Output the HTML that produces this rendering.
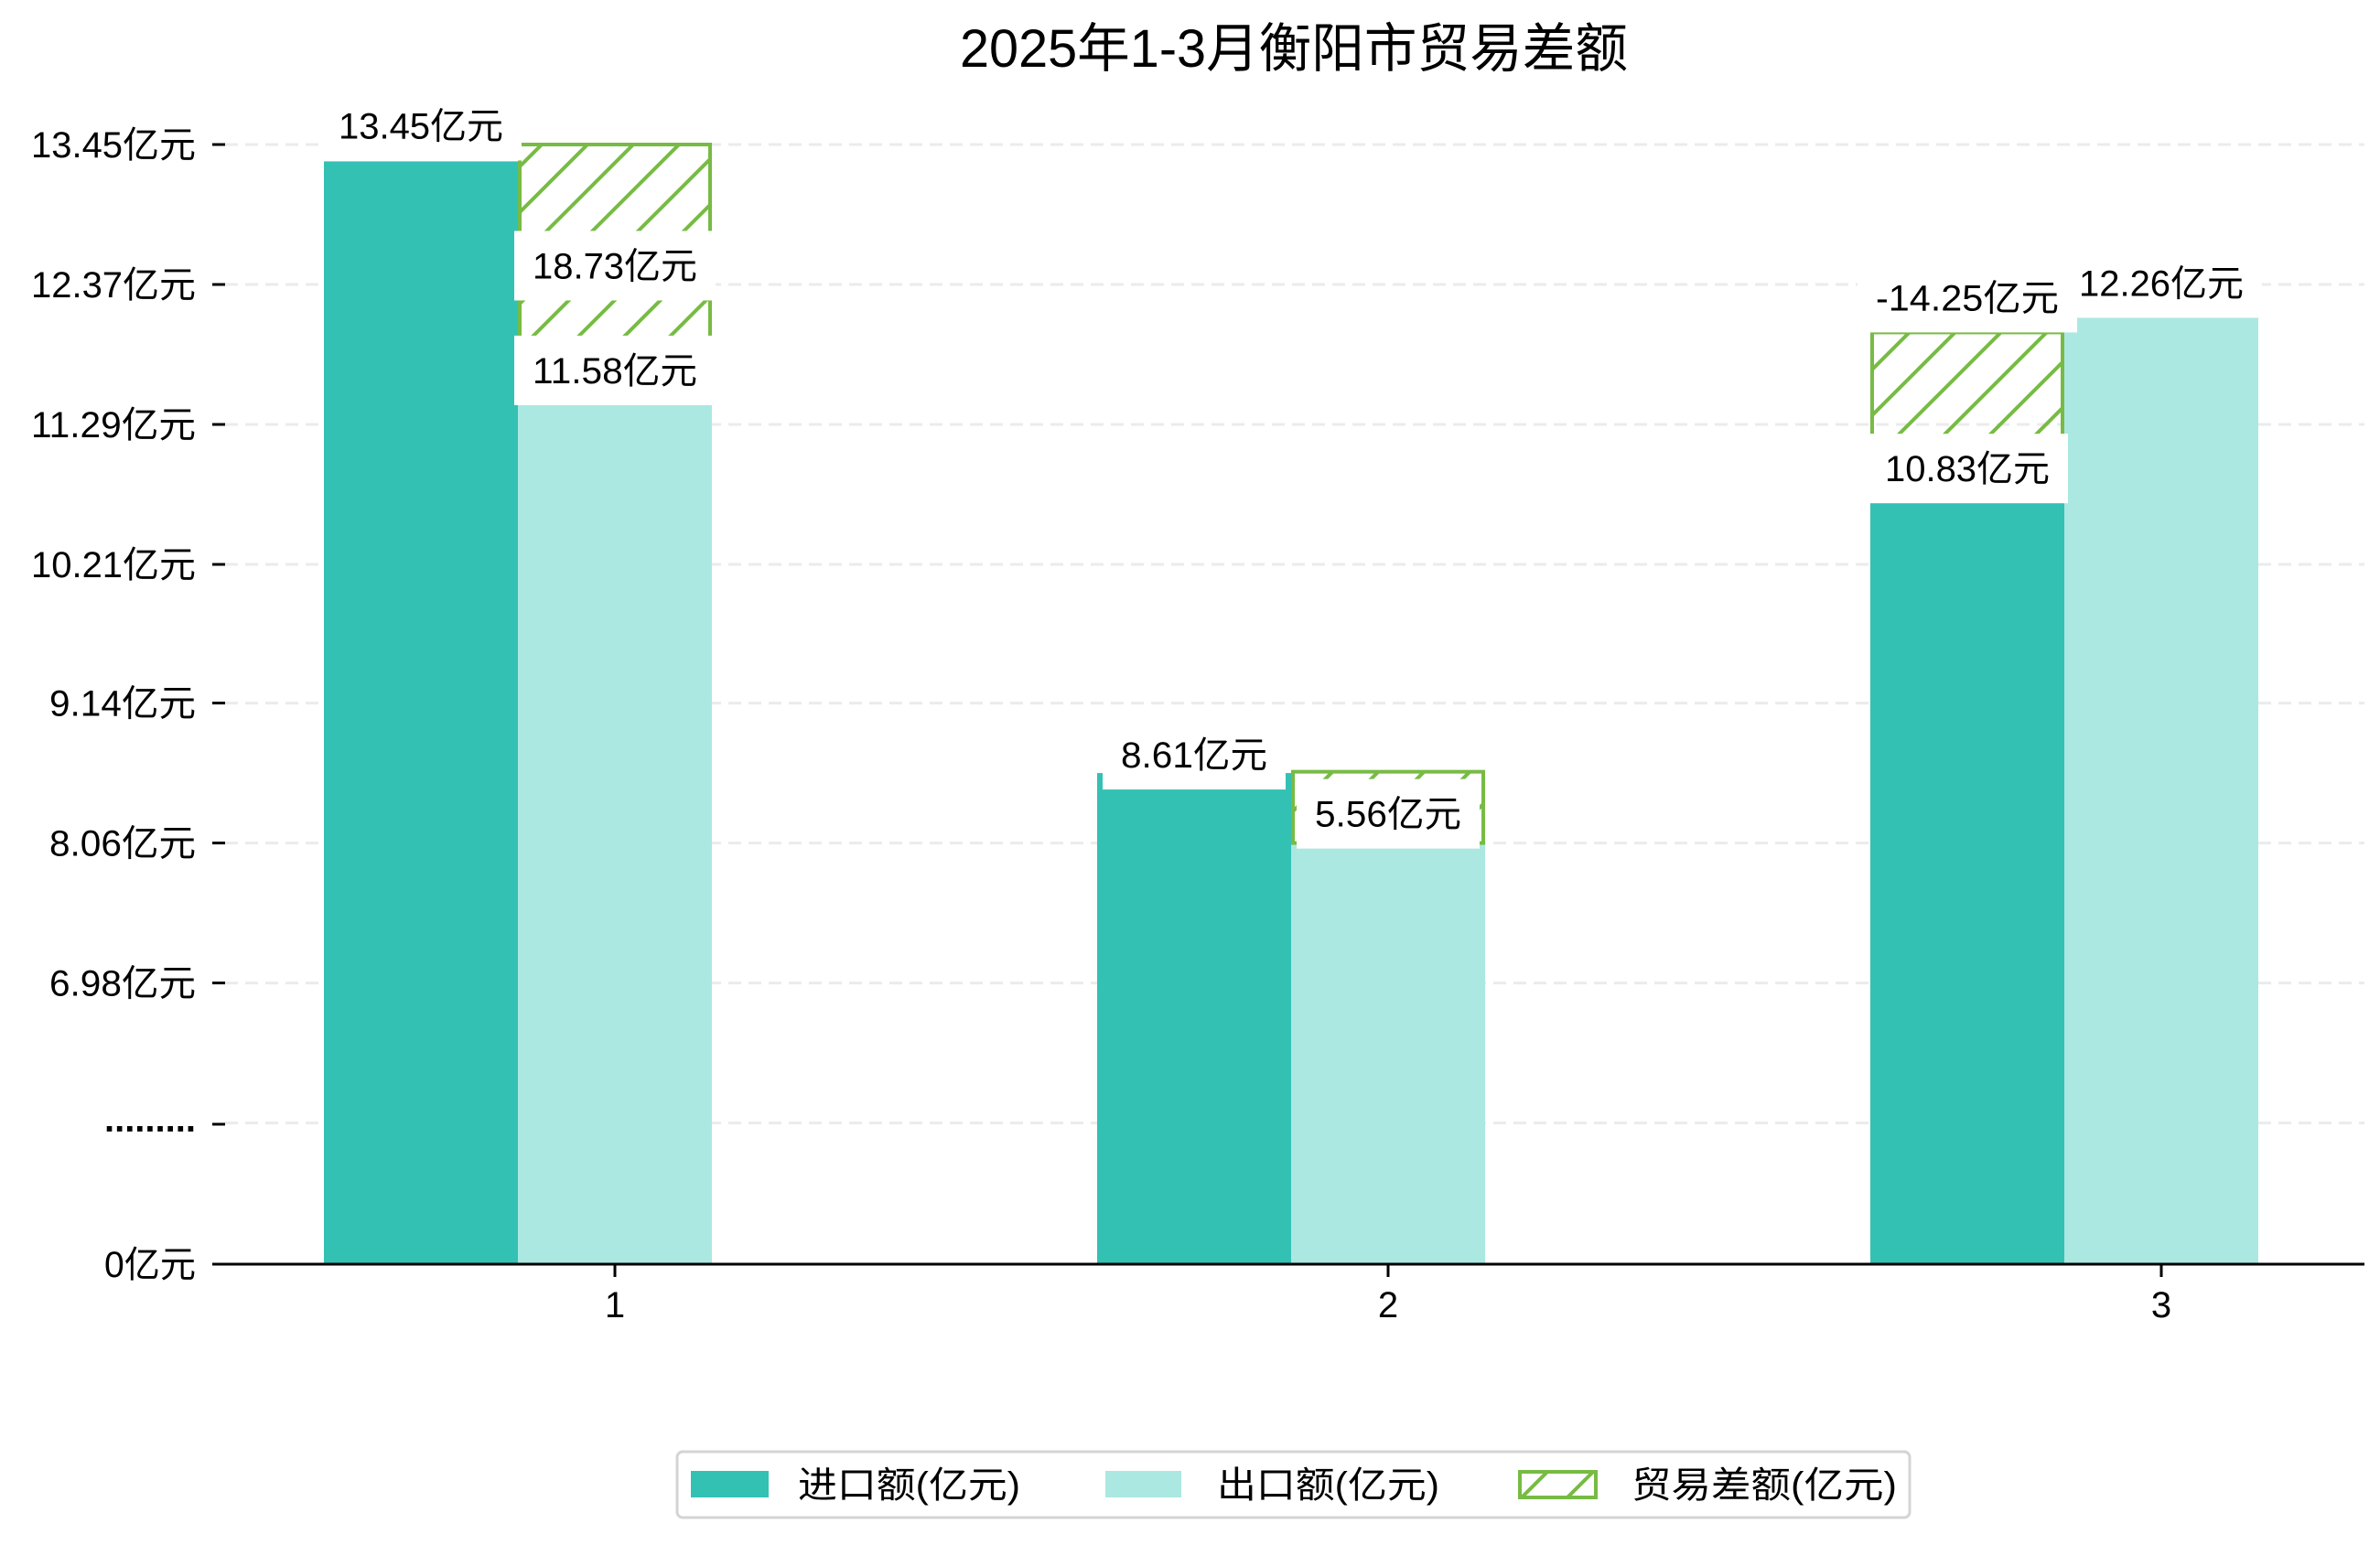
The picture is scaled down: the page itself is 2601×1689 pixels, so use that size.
<!DOCTYPE html>
<html><head><meta charset="utf-8">
<style>
html,body{margin:0;padding:0;background:#fff;}
svg{display:block;font-family:"Liberation Sans","Noto Sans CJK SC",sans-serif;}
</style></head>
<body>
<svg id="chart" width="2601" height="1689" viewBox="0 0 2601 1689" xmlns="http://www.w3.org/2000/svg">
<defs>
<pattern id="hatch" patternUnits="userSpaceOnUse" width="50" height="50">
<path d="M-5,55 L55,-5 M-5,5 L5,-5 M45,55 L55,45" stroke="#77bb44" stroke-width="4"/>
</pattern>
</defs>
<text x="1414" y="73" font-size="58" text-anchor="middle" textLength="730" lengthAdjust="spacingAndGlyphs">2025年1-3月衡阳市贸易差额</text>
<g id="grid"></g>
<g id="bars"></g>
<g id="labels"></g>
<g id="axes"></g>
<g>
<rect x="740" y="1587" width="1347" height="72" rx="6" fill="#fff" stroke="#d4d4d4" stroke-width="3"/>
<rect x="755" y="1608" width="85" height="29" fill="#33c1b4"/>
<text x="872" y="1637" font-size="40" textLength="243" lengthAdjust="spacingAndGlyphs">进口额(亿元)</text>
<rect x="1208" y="1608" width="83" height="29" fill="#abe8e2"/>
<text x="1330" y="1637" font-size="40" textLength="243" lengthAdjust="spacingAndGlyphs">出口额(亿元)</text>
<rect x="1661" y="1609" width="83" height="28" fill="url(#hatch)" stroke="#77bb44" stroke-width="4"/>
<text x="1783" y="1637" font-size="40" textLength="290" lengthAdjust="spacingAndGlyphs">贸易差额(亿元)</text>
</g>
</svg>
<script>
const months = ['1', '2', '3'];
const importVals = [13.32, 8.60, 10.83];
const exportVals = [11.58, 8.05, 12.12];
const diffTop = [13.45, 8.61, 12.0];
const diffBottom = [11.58, 8.06, 10.83];
const diffSide = ['export', 'export', 'import'];
const importLabels = ['13.45亿元', '8.61亿元', '10.83亿元'];
const exportLabels = ['11.58亿元', '', '12.26亿元'];
const diffLabels = ['18.73亿元', '5.56亿元', '-14.25亿元'];
const tickValues = [13.45, 12.37, 11.29, 10.21, 9.14, 8.06, 6.98];
const tickLabels = ['13.45亿元', '12.37亿元', '11.29亿元', '10.21亿元', '9.14亿元', '8.06亿元', '6.98亿元'];

const NS = 'http://www.w3.org/2000/svg';
const BASE = 1382, BREAKY = 1229, BREAKV = 5.9;
function y(v) {
  if (v >= BREAKV) return 158 + (13.45 - v) * (153 / 1.08);
  return BASE - (v / BREAKV) * (BASE - BREAKY);
}
function xGroup(i) { return 566 + i * 845; }
const BW = 212;
function mk(tag, attrs, parent) {
  const e = document.createElementNS(NS, tag);
  for (const k in attrs) e.setAttribute(k, attrs[k]);
  parent.appendChild(e);
  return e;
}
function textW(s, fs) {
  let w = 0;
  for (const c of s) w += (c.charCodeAt(0) > 255) ? fs : fs * 0.5;
  return w;
}
const grid = document.getElementById('grid');
const bars = document.getElementById('bars');
const labels = document.getElementById('labels');
const axes = document.getElementById('axes');

const gridVals = tickValues.concat([BREAKV]);
gridVals.forEach(v => {
  const l = mk('line', {x1: 246, x2: 2584, y1: y(v), y2: y(v), stroke: '#ebebeb', 'stroke-width': 3, 'stroke-dasharray': '14,8'}, grid);
  
  
});

months.forEach((m, i) => {
  const gx = xGroup(i);
  const b1 = mk('rect', {x: gx - BW, y: y(importVals[i]), width: BW, height: BASE - y(importVals[i]), fill: '#33c1b4'}, bars);
  
  
  const b2 = mk('rect', {x: gx, y: y(exportVals[i]), width: BW, height: BASE - y(exportVals[i]), fill: '#abe8e2'}, bars);
  
  
  const dx = diffSide[i] === 'export' ? gx : gx - BW;
  const d = mk('rect', {x: dx + 2, y: y(diffTop[i]), width: BW - 4, height: y(diffBottom[i]) - y(diffTop[i]), fill: 'url(#hatch)', stroke: '#77bb44', 'stroke-width': 4}, bars);
  
  
});

function addLabel(txt, cx, cy, name, boxed) {
  if (!txt) return;
  const fs = 40, w = textW(txt, fs);
  if (boxed) {
    const r = mk('rect', {x: cx - w / 2 - 20, y: cy - 38, width: w + 40, height: 76, fill: '#fff'}, labels);
    
    
  }
  const t = mk('text', {x: cx, y: cy + 14, 'font-size': fs, 'text-anchor': 'middle', textLength: w, lengthAdjust: 'spacingAndGlyphs'}, labels);
  t.textContent = txt;
  
  
}
// month 1
addLabel(diffLabels[0], xGroup(0) + BW / 2, (y(diffTop[0]) + y(diffBottom[0])) / 2, 'balance-label-1', true);
addLabel(exportLabels[0], xGroup(0) + BW / 2, y(exportVals[0]) - 18, 'export-label-1', true);
addLabel(importLabels[0], xGroup(0) - BW / 2 + 0, y(importVals[0]) - 39, 'import-label-1', true);
// month 2
addLabel(diffLabels[1], xGroup(1) + BW / 2, y(diffTop[1]) + 46, 'balance-label-2', true);
addLabel(importLabels[1], xGroup(1) - BW / 2, y(importVals[1]) - 20, 'import-label-2', true);
// month 3
addLabel(importLabels[2], xGroup(2) - BW / 2, y(importVals[2]) - 17, 'import-label-3', true);
addLabel(diffLabels[2], xGroup(2) - BW / 2, y(diffTop[2]) - 38, 'balance-label-3', true);
addLabel(exportLabels[2], xGroup(2) + BW / 2, y(exportVals[2]) - 37, 'export-label-3', true);

// axes
const base = mk('line', {x1: 232, x2: 2584, y1: BASE, y2: BASE, stroke: '#000', 'stroke-width': 3}, axes);


tickValues.forEach((v, i) => {
  const tk = mk('line', {x1: 232, x2: 246, y1: y(v), y2: y(v), stroke: '#000', 'stroke-width': 3}, axes);
  
  
  const t = mk('text', {x: 214, y: y(v) + 14, 'font-size': 40, 'text-anchor': 'end', textLength: textW(tickLabels[i], 40), lengthAdjust: 'spacingAndGlyphs'}, axes);
  t.textContent = tickLabels[i];
  
  
});
const bt = mk('line', {x1: 232, x2: 246, y1: BREAKY, y2: BREAKY, stroke: '#000', 'stroke-width': 3}, axes);


const bl = mk('text', {x: 214, y: BREAKY + 8, 'font-size': 40, 'text-anchor': 'end', 'font-weight': 'bold'}, axes);
bl.textContent = '.........';


const zl = mk('text', {x: 214, y: BASE + 14, 'font-size': 40, 'text-anchor': 'end', textLength: textW('0亿元', 40), lengthAdjust: 'spacingAndGlyphs'}, axes);
zl.textContent = '0亿元';


months.forEach((m, i) => {
  const cx = xGroup(i) + BW / 2;
  const tk = mk('line', {x1: cx, x2: cx, y1: BASE, y2: BASE + 14, stroke: '#000', 'stroke-width': 3}, axes);
  
  
  const t = mk('text', {x: cx, y: 1440, 'font-size': 40, 'text-anchor': 'middle'}, axes);
  t.textContent = m;
  
  
});
</script>
</body></html>
